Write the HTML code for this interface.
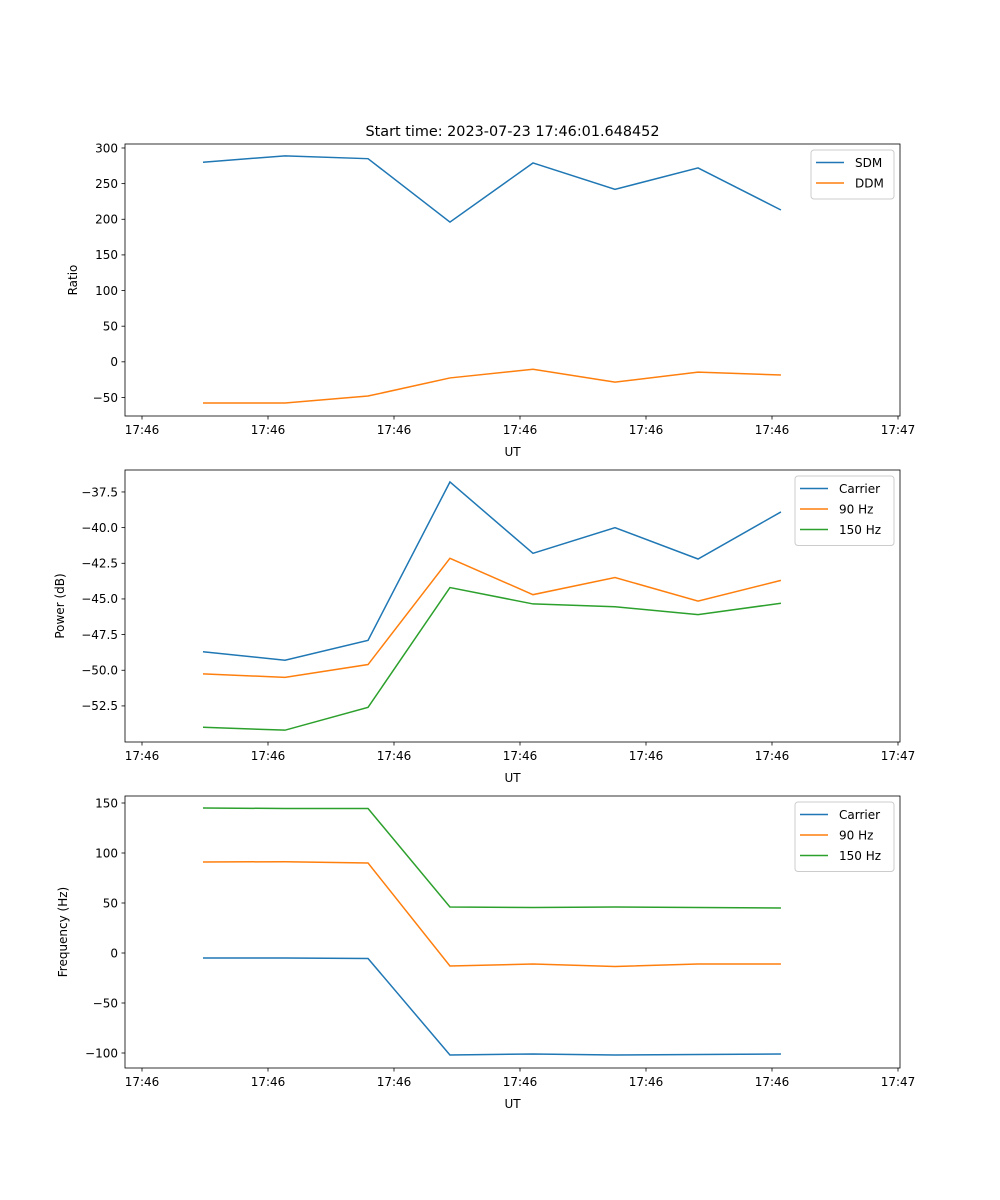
<!DOCTYPE html>
<html><head><meta charset="utf-8"><style>
body{margin:0;background:#fff;}
svg{display:block;font-family:"DejaVu Sans","Liberation Sans",sans-serif;}
</style></head><body>
<svg id="fig" width="1000" height="1200" viewBox="0 0 1000 1200" xmlns="http://www.w3.org/2000/svg">
<rect width="1000" height="1200" fill="#fff"/>
<text x="512.5" y="136" font-size="14.4" text-anchor="middle">Start time: 2023-07-23 17:46:01.648452</text>
</svg>
<script>
const times = [0.484, 1.135, 1.794, 2.444, 3.103, 3.754, 4.413, 5.071];
const xTickVals = [0, 1, 2, 3, 4, 5, 6];
const xTickLabels = ["17:46","17:46","17:46","17:46","17:46","17:46","17:47"];
const sdm = [280, 289, 285, 196, 279, 242, 272, 213];
const ddm = [-57.7, -57.7, -48, -22.6, -10.5, -28.5, -14.5, -18.5];
const powCarrier = [-48.7, -49.3, -47.9, -36.8, -41.8, -40.0, -42.2, -38.9];
const pow90 = [-50.25, -50.5, -49.6, -42.15, -44.7, -43.5, -45.15, -43.7];
const pow150 = [-54.0, -54.2, -52.6, -44.2, -45.35, -45.55, -46.1, -45.3];
const freqCarrier = [-5, -5, -5.5, -102, -101, -102, -101.5, -101];
const freq90 = [91, 91.3, 90, -13, -11, -13.5, -11, -11];
const freq150 = [145, 144.5, 144.5, 46, 45.5, 46, 45.5, 45];
const ticks1 = [300, 250, 200, 150, 100, 50, 0, -50];
const ticks2 = [-37.5, -40.0, -42.5, -45.0, -47.5, -50.0, -52.5];
const ticks3 = [150, 100, 50, 0, -50, -100];

const svg = document.getElementById('fig');
const NS = 'http://www.w3.org/2000/svg';
const L = 125, R = 900;
function mk(tag, attrs, parent){const e=document.createElementNS(NS,tag);for(const k in attrs)e.setAttribute(k,attrs[k]);(parent||svg).appendChild(e);return e;}
const xs = t => 142 + t * 126;
const colors = ['#1f77b4','#ff7f0e','#2ca02c'];

function panel(key, top, ymin, ymax, yticks, tickFmt, ylabel, series, names, legW){
  const bot = top + 272;
  const ys = v => bot - (v - ymin) / (ymax - ymin) * 272;
  const g = mk('g', {});
  
  
  series.forEach((s, i) => {
    const p = mk('polyline', {points: s.map((v, j) => xs(times[j]) + ',' + ys(v)).join(' '), fill: 'none', stroke: colors[i], 'stroke-width': 1.5}, g);
    
    
  });
  mk('rect', {x: L, y: top, width: R - L, height: 272, fill: 'none', stroke: '#000', 'stroke-width': 0.8}, g);
  xTickVals.forEach((t, i) => {
    const x = xs(t);
    mk('line', {x1: x, x2: x, y1: bot, y2: bot + 3.5, stroke: '#000', 'stroke-width': 0.8}, g);
    const tx = mk('text', {x: x, y: bot + 18, 'font-size': 12, 'text-anchor': 'middle'}, g);
    tx.textContent = xTickLabels[i];
    
    
  });
  const xl = mk('text', {x: 512.5, y: bot + 40, 'font-size': 12, 'text-anchor': 'middle'}, g);
  xl.textContent = 'UT';
  
  
  yticks.forEach(v => {
    const y = ys(v);
    mk('line', {x1: L - 3.5, x2: L, y1: y, y2: y, stroke: '#000', 'stroke-width': 0.8}, g);
    const tx = mk('text', {x: L - 7, y: y + 4.3, 'font-size': 12, 'text-anchor': 'end'}, g);
    tx.textContent = tickFmt(v).replace('-', '\u2212');
    
    
  });
  const lx = key === 'power' ? 64 : (key === 'ratio' ? 77 : 67);
  const yl = mk('text', {x: lx, y: top + 136, 'font-size': 12, 'text-anchor': 'middle', transform: 'rotate(-90 ' + lx + ' ' + (top + 136) + ')'}, g);
  yl.textContent = ylabel;
  
  
  const lg = mk('g', {}, g);
  
  
  const lxs = R - 6 - legW;
  mk('rect', {x: lxs, y: top + 6, width: legW, height: 8 + names.length * 20.5, rx: 3, fill: '#fff', 'fill-opacity': 0.8, stroke: '#ccc', 'stroke-width': 1}, lg);
  names.forEach((n, i) => {
    const y = top + 18.5 + i * 20.5;
    mk('line', {x1: lxs + 5, x2: lxs + 33, y1: y, y2: y, stroke: colors[i], 'stroke-width': 1.5}, lg);
    const tx = mk('text', {x: lxs + 44, y: y + 4.5, 'font-size': 12}, lg);
    tx.textContent = n;
    
    
  });
}
panel('ratio', 144, -76, 305.6, ticks1, v => String(v), 'Ratio', [sdm, ddm], ['SDM', 'DDM'], 83);
panel('power', 470, -55.03, -35.96, ticks2, v => v.toFixed(1), 'Power (dB)', [powCarrier, pow90, pow150], ['Carrier', '90 Hz', '150 Hz'], 99);
panel('frequency', 796, -115, 157, ticks3, v => String(v), 'Frequency (Hz)', [freqCarrier, freq90, freq150], ['Carrier', '90 Hz', '150 Hz'], 99);
</script>
</body></html>
